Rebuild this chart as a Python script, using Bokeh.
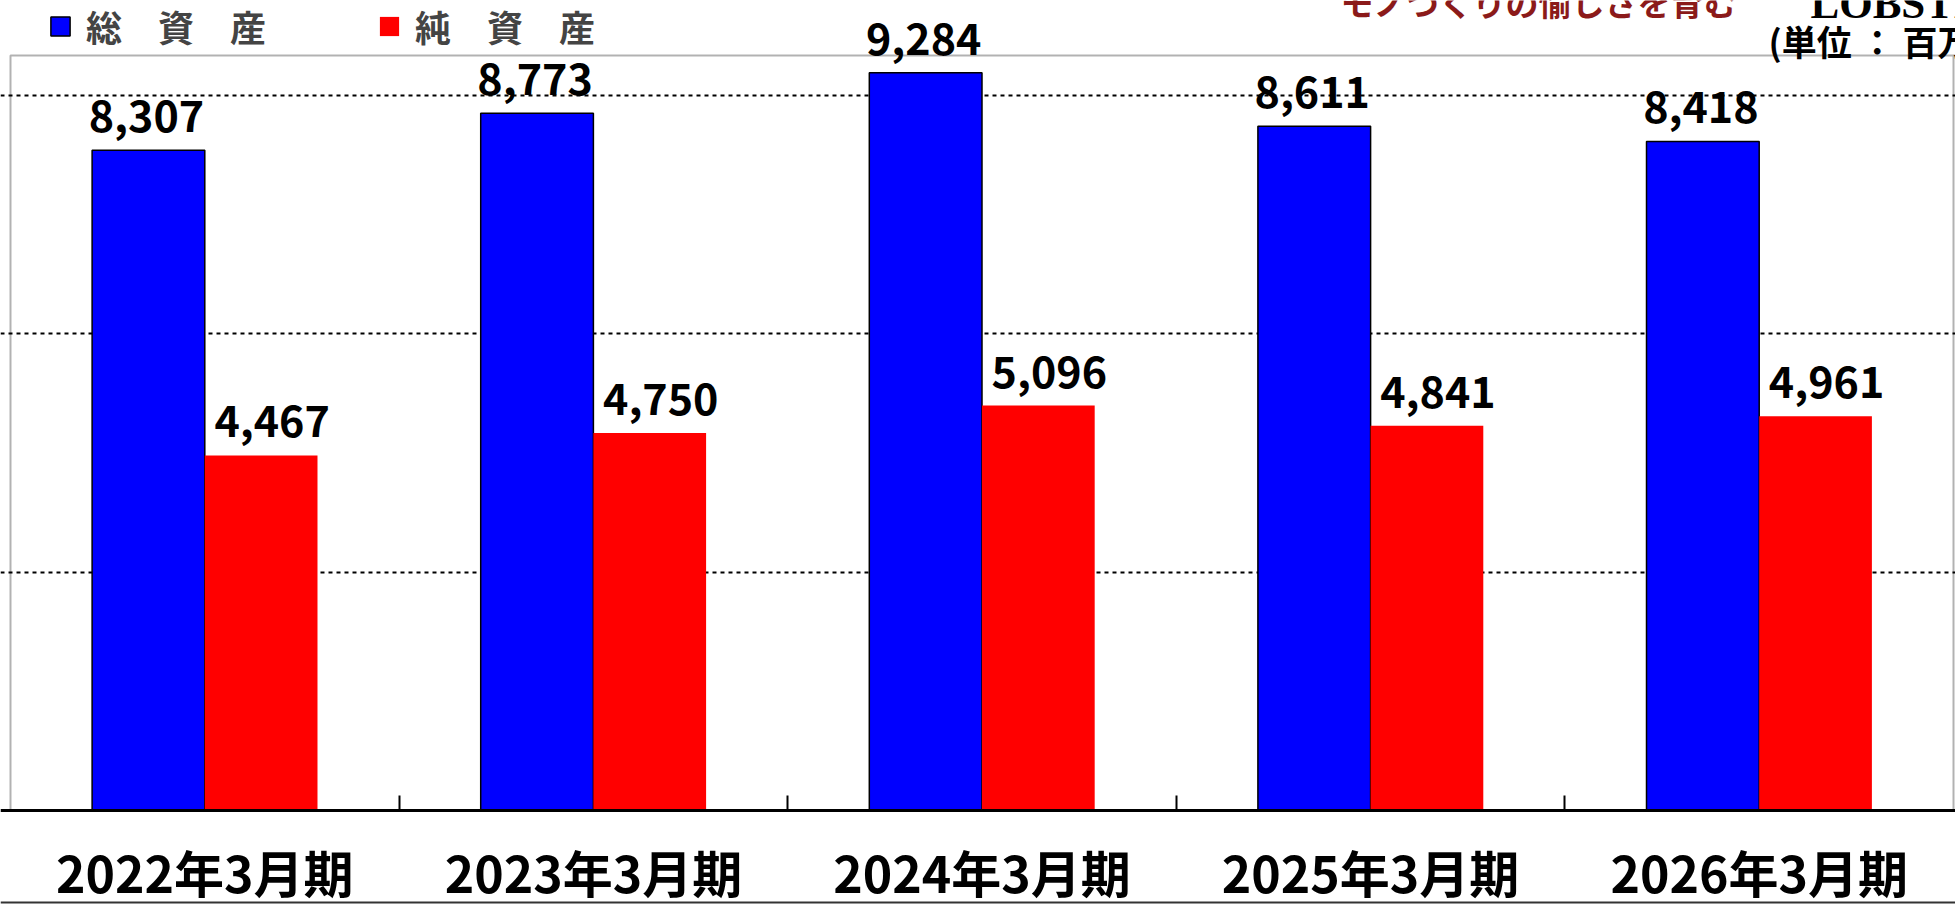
from bokeh.plotting import figure
from bokeh.models import (ColumnDataSource, Range1d, FixedTicker, Grid, Legend,
                          LegendItem, Label, LabelSet, Span, BoxAnnotation)
from bokeh.core.properties import value
from bokeh.embed import file_html
from bokeh.resources import INLINE

# ---- data ----
categories = ["2022年3月期", "2023年3月期", "2024年3月期", "2025年3月期", "2026年3月期"]
total_assets = [8307, 8773, 9284, 8611, 8418]
net_assets = [4467, 4750, 5096, 4841, 4961]
series_names = ["総　資　産", "純　資　産"]
grid_values = [3000, 6000, 9000]
y_max = 9500
unit_text = "(単位 ： 百万円)"
slogan = "モノづくりの愉しさを育む"
brand = "LOBSTER"

# ---- layout constants (pixels inside the canvas) ----
FONT = "Noto Sans CJK JP"
W, H = 1955, 904
BOX_TOP_PX = 55       # top edge of the plot box
AXIS_PX = 810         # y = 0 line
BOX_LEFT_PX = 10
BOX_RIGHT_PX = 1953
BOTTOM_RULE_PX = 902
BW = 0.29

n = len(categories)
ppu_y = (AXIS_PX - BOX_TOP_PX) / y_max
y_start = -(H - AXIS_PX) / ppu_y
y_end = y_max + BOX_TOP_PX / ppu_y
ppu_x = (BOX_RIGHT_PX - BOX_LEFT_PX) / n
x_start = -BOX_LEFT_PX / ppu_x
x_end = n + (W - BOX_RIGHT_PX) / ppu_x

centers = [i + 0.5 for i in range(n)]
bounds = list(range(1, n))

src = ColumnDataSource(dict(
    xb=[c - BW / 2 for c in centers],
    xr=[c + BW / 2 for c in centers],
    total=total_assets,
    net=net_assets,
    total_label=[f"{v:,}" for v in total_assets],
    net_label=[f"{v:,}" for v in net_assets],
))

p = figure(width=W, height=H,
           x_range=Range1d(x_start, x_end), y_range=Range1d(y_start, y_end),
           output_backend="svg", toolbar_location=None, y_axis_location=None,
           min_border=0)
p.grid.visible = False
p.outline_line_color = None
p.background_fill_color = "white"
p.border_fill_color = "white"

grid = Grid(dimension=1, ticker=FixedTicker(ticks=grid_values),
            grid_line_color="black", grid_line_width=2, grid_line_dash="4 4")
p.add_layout(grid)

rb = p.vbar(x="xb", top="total", width=BW, source=src,
            fill_color="#0000FF", line_color="black", line_width=1.5)
rr = p.vbar(x="xr", top="net", width=BW, source=src,
            fill_color="#FF0000", line_color=None)

# plot box
p.add_layout(BoxAnnotation(left=0, right=n, bottom=0, top=y_max,
                           fill_alpha=0, line_color="black", line_width=2, level="underlay"))

lab_b = LabelSet(x="xb", y="total", text="total_label", source=src,
                 text_font=value(FONT), text_font_size="43px", text_font_style="bold",
                 text_align="center", text_baseline="alphabetic",
                 x_offset=-2, y_offset=18, text_color="black")
lab_r = LabelSet(x="xr", y="net", text="net_label", source=src,
                 text_font=value(FONT), text_font_size="43px", text_font_style="bold",
                 text_align="center", text_baseline="alphabetic",
                 x_offset=11, y_offset=18, text_color="black")
p.add_layout(lab_b)
p.add_layout(lab_r)

ax = p.xaxis[0]
ax.fixed_location = 0
ax.ticker = FixedTicker(ticks=centers, minor_ticks=bounds)
ax.major_label_overrides = {c: cat for c, cat in zip(centers, categories)}
ax.major_tick_line_color = None
ax.major_tick_in = 0
ax.major_tick_out = 0
ax.minor_tick_in = 15
ax.minor_tick_out = 0
ax.minor_tick_line_color = "black"
ax.minor_tick_line_width = 2
ax.axis_line_color = "black"
ax.axis_line_width = 3
ax.major_label_text_font = FONT
ax.major_label_text_font_size = "50px"
ax.major_label_text_font_style = "bold"
ax.major_label_text_color = "black"
ax.major_label_standoff = 24

legend = Legend(items=[LegendItem(label=series_names[0], renderers=[rb]),
                       LegendItem(label=series_names[1], renderers=[rr])],
                orientation="horizontal", location=(48, 852),
                glyph_width=24, glyph_height=24, label_standoff=14, spacing=111,
                label_text_font=FONT, label_text_font_size="36px",
                label_text_font_style="bold", label_height=24,
                padding=0, margin=0, border_line_color=None, background_fill_alpha=0)
p.add_layout(legend)

# header texts (screen units from the frame's bottom-left corner)
p.add_layout(Label(x=1340, y=903, x_units="screen", y_units="screen", text=slogan,
                   text_font=FONT, text_font_size="33px", text_font_style="bold",
                   text_color="#8B1A1A", text_baseline="alphabetic"))
p.add_layout(Label(x=1810, y=901, x_units="screen", y_units="screen", text=brand,
                   text_font="Liberation Serif", text_font_size="43px", text_font_style="bold",
                   text_color="black", text_baseline="alphabetic"))
p.add_layout(Label(x=1768, y=864, x_units="screen", y_units="screen", text=unit_text,
                   text_font=FONT, text_font_size="35px", text_font_style="bold",
                   text_color="black", text_baseline="alphabetic"))

# thin rule along the bottom edge of the picture
p.add_layout(Span(location=-(BOTTOM_RULE_PX - AXIS_PX) / ppu_y, dimension="width",
                  line_color="#333333", line_width=2))

open("out.html", "w").write(file_html(p, INLINE))
